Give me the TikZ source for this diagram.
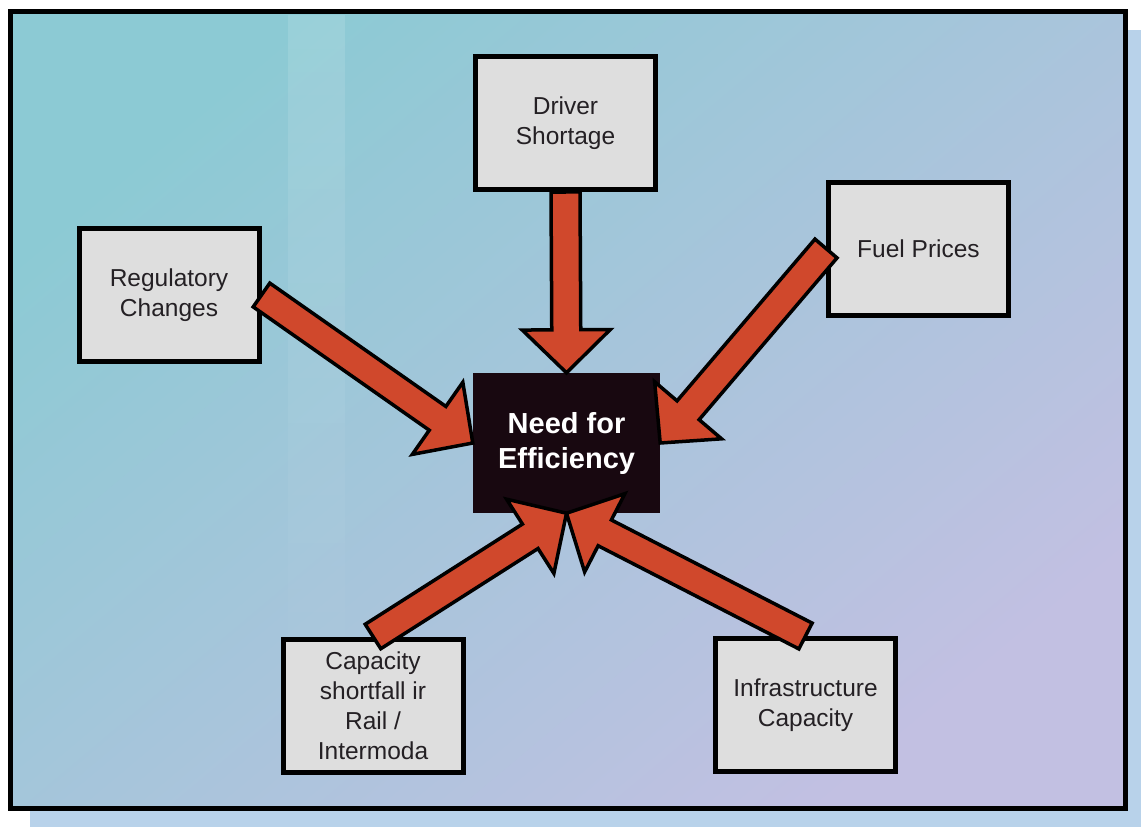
\documentclass[tikz,border=0pt]{standalone}
\usepackage{fontspec}
\setmainfont{Liberation Sans}
\usetikzlibrary{calc,fadings}
\definecolor{bgA}{RGB}{140,202,212}
\definecolor{bgB}{RGB}{194,192,226}
\definecolor{shadowc}{RGB}{184,210,234}
\definecolor{boxfill}{RGB}{222,222,222}
\definecolor{arrowred}{RGB}{208,72,44}
\definecolor{needfill}{RGB}{24,8,16}
\definecolor{txt}{RGB}{36,32,36}
\tikzset{
  factor/.style={draw=black, line width=5pt, fill=boxfill, minimum width=180pt,
    minimum height=133pt, align=center, text=txt, inner sep=2pt,
    font=\fontsize{24.5}{30}\selectfont},
  hub/.style={fill=needfill, minimum width=187pt, minimum height=140pt,
    align=center, text=white, font=\fontsize{29}{35}\selectfont\bfseries},
  blockarrow/.style={fill=arrowred, draw=black, line width=3.5pt, line join=miter},
}
\newcommand{\bigarrow}[3]{%
  \coordinate (#1h) at ($(#3)!43pt!(#2)$);
  \draw[blockarrow] ($(#2)!14.5pt!90:(#3)$) -- ($(#1h)!14.5pt!-90:(#2)$)
    -- ($(#1h)!44pt!-90:(#2)$) -- (#3) -- ($(#1h)!44pt!90:(#2)$)
    -- ($(#1h)!14.5pt!90:(#2)$) -- ($(#2)!14.5pt!-90:(#3)$) -- cycle;
}
\begin{document}
\begin{tikzpicture}[x=1pt,y=-1pt]
  \useasboundingbox (0,0) rectangle (1141,827);
  \fill[white] (0,0) rectangle (1141,827);
  \fill[shadowc] (30,30) rectangle (1141,827);
  \shade[top color=bgA, bottom color=bgB, shading angle=40] (10,11) rectangle (1125,808);
  \fill[white, fill opacity=0.12, path fading=south] (288,14) rectangle (345,740);
  \draw[line width=5pt] (10,11) rectangle (1125,808);

  \node[factor] (driver) at (565.5,123) {Driver\\Shortage};
  \node[factor] (fuel) at (918.5,248.5) {Fuel Prices};
  \node[factor] (reg) at (169,295) {Regulatory\\Changes};
  \node[factor] (cap) at (373,705.5) {Capacity\\shortfall ir\\Rail /\\Intermoda};
  \node[factor] (infra) at (805.5,705) {Infrastructure\\Capacity};
  \node[hub] (need) at (566.5,443) {Need for\\Efficiency};

  \bigarrow{aa}{driver.south}{need.north}
  \bigarrow{ab}{reg.east}{need.west}
  \bigarrow{ac}{fuel.west}{need.east}
  \bigarrow{ad}{cap.north}{need.south}
  \bigarrow{ae}{infra.north}{need.south}
\end{tikzpicture}
\end{document}
